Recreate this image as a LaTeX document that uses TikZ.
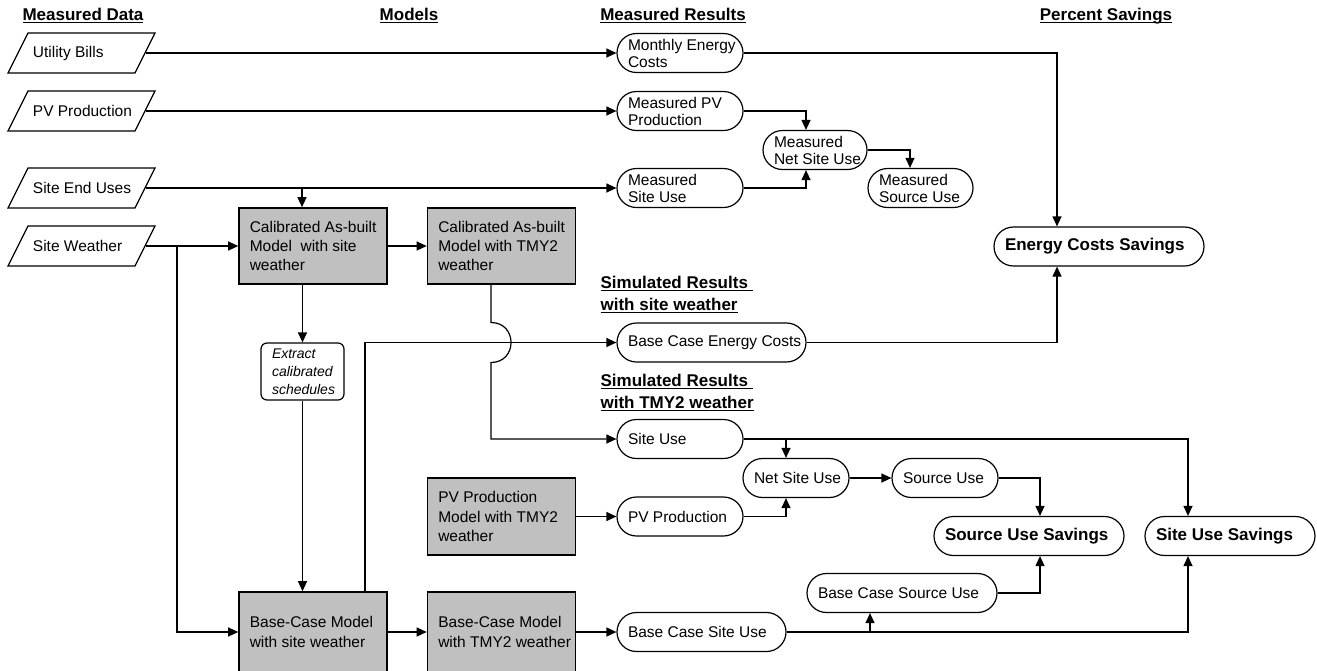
\documentclass[tikz,border=0pt]{standalone}
\usepackage{fontspec}
\setmainfont{Liberation Sans}
\usetikzlibrary{arrows.meta,shapes.geometric}
\definecolor{boxgray}{RGB}{192,192,192}
\newcommand{\hul}[1]{\setbox0=\hbox{#1}\rlap{\rule[-3pt]{\wd0}{1.4pt}}\box0}
\newcommand{\fsn}{\fontsize{15.5}{17}\selectfont}
\newcommand{\fsg}{\fontsize{15.5}{19.3}\selectfont}
\newcommand{\fsb}{\bfseries\fontsize{17}{20}\selectfont}
\newcommand{\fsi}{\itshape\fontsize{14}{17.8}\selectfont}
\begin{document}
\begin{tikzpicture}[x=1pt,y=-1pt,
  line width=1.2pt,
  arr/.style={-{Triangle[length=10pt,width=9pt]}},
  pill/.style={draw, rounded corners=19.5pt, minimum height=39pt, inner sep=0pt},
  gbox/.style={draw, fill=boxgray, line width=1.6pt, minimum width=148pt, minimum height=80pt, inner sep=0pt},
  databox/.style={trapezium, trapezium left angle=63.43, trapezium right angle=116.57, draw, inner xsep=53.5pt, inner ysep=20pt},
  lbl/.style={anchor=west, xshift=11pt, align=left, inner sep=0pt, font=\fsn},
  dlbl/.style={anchor=west, xshift=15pt, inner sep=0pt, font=\fsn},
  blbl/.style={anchor=west, xshift=11pt, inner sep=0pt, font=\fsb},
  glbl/.style={anchor=west, xshift=11pt, align=left, inner sep=0pt, font=\fsg},
  ilbl/.style={anchor=west, xshift=11pt, align=left, inner sep=0pt, font=\fsi},
  head/.style={anchor=base, inner sep=0pt, font=\fsb},
  ]
\fill[white] (0,0) rectangle (1317,670);
\useasboundingbox (0,0) rectangle (1317,670);
\clip (0,0) rectangle (1317,670);

% headers
\node[head] (hmd) at (83,20) {\hul{Measured Data}};
\node[head] (hmo) at (409,20) {\hul{Models}};
\node[head] (hmr) at (673,20) {\hul{Measured Results}};
\node[head] (hps) at (1106,20) {\hul{Percent Savings}};
\node[head, anchor=base west] (hss1) at (600,288) {\hul{Simulated Results\ }};
\node[head, anchor=base west] (hss2) at (600,310) {\hul{with site weather}};
\node[head, anchor=base west] (hst1) at (600,386) {\hul{Simulated Results\ }};
\node[head, anchor=base west] (hst2) at (600,408) {\hul{with TMY2 weather}};

% measured data
\node[databox, label={[dlbl]left:Utility Bills}] (ub) at (81.5,53) {};
\node[databox, label={[dlbl]left:PV Production}] (pv) at (81.5,111) {};
\node[databox, label={[dlbl]left:Site End Uses}] (seu) at (81.5,188) {};
\node[databox, label={[dlbl]left:Site Weather}] (sw) at (81.5,246) {};

% models
\node[gbox, minimum height=76pt, label={[glbl]left:Calibrated As-built\\Model~ with site\\weather}] (cal1) at (313,246) {};
\node[gbox, minimum height=76pt, label={[glbl]left:Calibrated As-built\\Model with TMY2\\weather}] (cal2) at (501.5,246) {};
\node[gbox, minimum height=77pt, label={[glbl]left:PV Production\\Model with TMY2\\weather}] (pvm) at (501.5,516.5) {};
\node[gbox, label={[glbl]left:Base-Case Model\\with site weather}] (bc1) at (313,632) {};
\node[gbox, label={[glbl]left:Base-Case Model\\with TMY2 weather}] (bc2) at (501.5,632) {};
\node[draw, rounded corners=6pt, minimum width=83pt, minimum height=57pt, inner sep=0pt,
      label={[ilbl]left:Extract\\calibrated\\schedules}] (ext) at (302.5,371.5) {};

% measured results
\node[pill, minimum width=126pt, label={[lbl]left:Monthly Energy\\Costs}] (mec) at (680,53) {};
\node[pill, minimum width=126pt, label={[lbl]left:Measured PV\\Production}] (mpv) at (680,111) {};
\node[pill, minimum width=104pt, label={[lbl]left:Measured\\Net Site Use}] (mnsu) at (815,150) {};
\node[pill, minimum width=126pt, label={[lbl]left:Measured\\Site Use}] (msu) at (680,188) {};
\node[pill, minimum width=105pt, label={[lbl]left:Measured\\Source Use}] (msrc) at (920.5,188) {};

% savings
\node[pill, minimum width=210pt, label={[blbl]left:Energy Costs Savings}] (ecs) at (1099,246.5) {};
\node[pill, minimum width=190pt, label={[blbl]left:Source Use Savings}] (sus) at (1029,536) {};
\node[pill, minimum width=170pt, label={[blbl]left:Site Use Savings}] (sius) at (1230,536) {};

% simulated results
\node[pill, minimum width=189pt, label={[lbl]left:Base Case Energy Costs}] (bcec) at (711.5,342.5) {};
\node[pill, minimum width=126pt, label={[lbl]left:Site Use}] (su) at (680,439) {};
\node[pill, minimum width=106pt, label={[lbl]left:Net Site Use}] (nsu) at (796,478) {};
\node[pill, minimum width=106pt, label={[lbl]left:Source Use}] (src) at (945,478) {};
\node[pill, minimum width=126pt, label={[lbl]left:PV Production}] (pvp) at (680,516.5) {};
\node[pill, minimum width=190pt, label={[lbl]left:Base Case Source Use}] (bcsrc) at (902,593) {};
\node[pill, minimum width=169pt, label={[lbl]left:Base Case Site Use}] (bcsu) at (701.5,632) {};

% connectors: measured
\draw[arr] (ub.east) -- (mec.west);
\draw[arr] (pv.east) -- (mpv.west);
\draw[arr] (seu.east) -- (msu.west);
\coordinate (c1n) at ([xshift=-11pt]cal1.north);
\draw[arr] (seu.east -| c1n) -- (c1n);
\draw[arr] (sw.east) -- (cal1.west);
\coordinate (swj) at (177,246);
\draw[arr] (swj) |- (bc1.west);
\draw[arr] (mec.east) -| ([xshift=-42pt]ecs.north);
\draw[arr] (mpv.east) -| ([xshift=-9pt]mnsu.north);
\draw[arr] (msu.east) -| ([xshift=-9pt]mnsu.south);
\draw[arr] (mnsu.east) -| ([xshift=-10.5pt]msrc.north);

% connectors: models
\draw[arr] (cal1.east) -- (cal2.west);
\draw[arr] (cal1.south -| ext.north) -- (ext.north);
\draw[arr] (ext.south) -- (ext.south |- bc1.north);
\coordinate (bc1t) at ([xshift=52pt]bc1.north);
\draw[arr] (bc1t) |- (bcec.west);
\coordinate (c2s) at ([xshift=-10.5pt]cal2.south);
\draw[arr] (c2s) -- (491,322.5) .. controls (517.7,322.5) and (517.7,362.5) .. (491,362.5) |- (su.west);
\draw[arr] (bcec.east) -| ([xshift=-42pt]ecs.south);
\draw[arr] (pvm.east) -- (pvp.west);
\draw[arr] (bc1.east) -- (bc2.west);
\draw[arr] (bc2.east) -- (bcsu.west);

% connectors: simulated
\draw[arr] (su.east) -| ([xshift=-42pt]sius.north);
\coordinate (nsun) at ([xshift=-10pt]nsu.north);
\draw[arr] (su.east -| nsun) -- (nsun);
\draw[arr] (pvp.east) -| ([xshift=-10pt]nsu.south);
\draw[arr] (nsu.east) -- (src.west);
\draw[arr] (src.east) -| ([xshift=11pt]sus.north);
\draw[arr] (bcsrc.east) -| ([xshift=11pt]sus.south);
\draw[arr] (bcsu.east) -| ([xshift=-42pt]sius.south);
\coordinate (bcsrcs) at ([xshift=-32pt]bcsrc.south);
\draw[arr] (bcsu.east -| bcsrcs) -- (bcsrcs);
\end{tikzpicture}
\end{document}
